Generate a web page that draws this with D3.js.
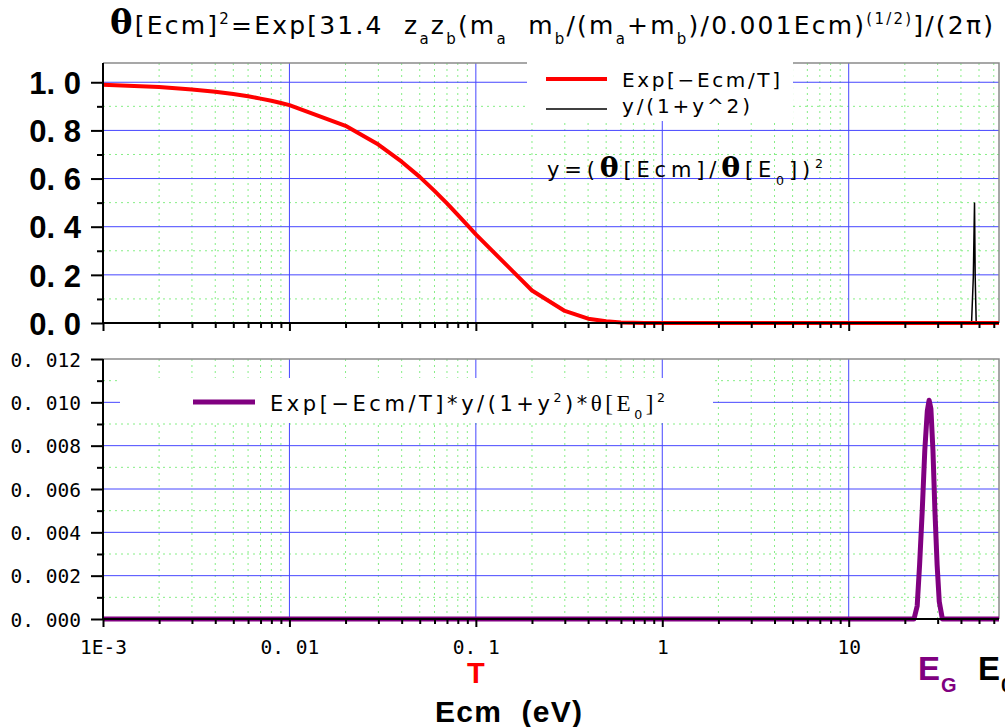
<!DOCTYPE html>
<html>
<head>
<meta charset="utf-8">
<script src="https://cdn.jsdelivr.net/npm/d3@7"></script>
<style>
  body { margin: 0; background: #fff; }
  svg { display: block; }
</style>
</head>
<body>
<div id="chart"></div>
<script>
// x axis (log, eV)
const xMajor = [0.001, 0.01, 0.1, 1, 10];
const xMajorLabels = ["1E-3", "0. 01", "0. 1", "1", "10"];

// y ticks
const topYTicks = [0, 0.2, 0.4, 0.6, 0.8, 1.0];
const topYMinor = [0.1, 0.3, 0.5, 0.7, 0.9];
const botYTicks = [0, 0.002, 0.004, 0.006, 0.008, 0.010, 0.012];
const botYMinor = [0.001, 0.003, 0.005, 0.007, 0.009, 0.011];

// Exp[-Ecm/T]
const redE = [0.001, 0.002, 0.003, 0.004, 0.005, 0.006, 0.007, 0.008, 0.009, 0.01,
  0.02, 0.03, 0.04, 0.05, 0.06, 0.07, 0.08, 0.09, 0.1, 0.2, 0.3, 0.4, 0.5, 0.6, 0.7, 0.8, 1, 10, 64];
const redV = [0.99, 0.98, 0.97, 0.961, 0.951, 0.942, 0.932, 0.923, 0.914, 0.905,
  0.819, 0.741, 0.670, 0.607, 0.549, 0.497, 0.449, 0.407, 0.368, 0.135, 0.050, 0.018, 0.007, 0.002, 0.001, 0, 0, 0, 0];

// y/(1+y^2) narrow spike at E0
const blackE = [0.001, 45.6, 46.6, 47.3, 47.7, 48.3, 64];
const blackV = [0, 0, 0.19, 0.5, 0.19, 0, 0];

// product, Gamow peak at EG
const purpleE = [0.001, 20, 22.4, 23.3, 24.0, 24.8, 25.6, 26.4, 27.0, 27.6, 28.3, 29.0, 29.8, 30.6, 31.8, 64];
const purpleV = [0, 0, 0, 0.0006, 0.0025, 0.005, 0.0078, 0.0096, 0.0101, 0.0097, 0.0078, 0.005, 0.0025, 0.0008, 0, 0];

const width = 1005, height = 727;
const left = 103, right = 999;
const topPanel = { top: 63, bottom: 323 };
const botPanel = { top: 359, bottom: 619 };
const sans = "DejaVu Sans, sans-serif";

const svg = d3.select("#chart").append("svg")
  .attr("width", width).attr("height", height)
  .attr("viewBox", [0, 0, width, height]);

const x = d3.scaleLog().domain([0.001, 64]).range([left, right]);
const yTop = d3.scaleLinear().domain([0, 1.08]).range([topPanel.bottom, topPanel.top]);
const yBot = d3.scaleLinear().domain([0, 0.012]).range([botPanel.bottom, botPanel.top]);

const blue = "#4646ff";
const green = "#86ee86";
const allX = x.ticks().filter(d => d > 0.001);
const minorX = allX.filter(d => !xMajor.some(m => Math.abs(m - d) / m < 1e-6));

function grid(panel, y, major, minor) {
  const g = svg.append("g");
  g.selectAll(".vm").data(minorX).join("line")
    .attr("x1", d => x(d)).attr("x2", d => x(d))
    .attr("y1", panel.top).attr("y2", panel.bottom)
    .attr("stroke", green).attr("stroke-dasharray", "2,4");
  g.selectAll(".hm").data(minor).join("line")
    .attr("x1", left).attr("x2", right)
    .attr("y1", d => y(d)).attr("y2", d => y(d))
    .attr("stroke", green).attr("stroke-dasharray", "2,4");
  g.selectAll(".vM").data(xMajor.slice(1)).join("line")
    .attr("x1", d => x(d)).attr("x2", d => x(d))
    .attr("y1", panel.top).attr("y2", panel.bottom)
    .attr("stroke", blue).attr("stroke-width", 1);
  g.selectAll(".hM").data(major.filter(d => d > 0 && y(d) > panel.top + 2)).join("line")
    .attr("x1", left).attr("x2", right)
    .attr("y1", d => y(d)).attr("y2", d => y(d))
    .attr("stroke", blue).attr("stroke-width", 1);
  // gray frame (top, right)
  g.append("path")
    .attr("d", `M${left},${panel.top}H${right}V${panel.bottom}`)
    .attr("fill", "none").attr("stroke", "#8a8a8a").attr("stroke-width", 1.5);
}

grid(topPanel, yTop, topYTicks, topYMinor);
grid(botPanel, yBot, botYTicks, botYMinor);

// legend backgrounds
svg.append("rect").attr("x", 527).attr("y", 56).attr("width", 266).attr("height", 65).attr("fill", "#fff");
svg.append("rect").attr("x", 120).attr("y", 378).attr("width", 593).attr("height", 45).attr("fill", "#fff");

// curves
const lineTop = d3.line().x(d => x(d[0])).y(d => yTop(d[1]));
const lineBot = d3.line().x(d => x(d[0])).y(d => yBot(d[1]));

svg.append("path").datum(d3.zip(blackE, blackV))
  .attr("d", lineTop).attr("fill", "none").attr("stroke", "#000").attr("stroke-width", 1.5);
svg.append("path").datum(d3.zip(redE, redV))
  .attr("d", lineTop).attr("fill", "none").attr("stroke", "#ff0000").attr("stroke-width", 4)
  .attr("stroke-linejoin", "round");
svg.append("path").datum(d3.zip(purpleE, purpleV))
  .attr("d", lineBot).attr("fill", "none").attr("stroke", "#800080").attr("stroke-width", 5)
  .attr("stroke-linejoin", "round");

// axes
const fmtTop = d => d3.format(".1f")(d).replace(".", ". ");
const fmtBot = d => d3.format(".3f")(d).replace(".", ". ");

function yAxis(y, ticks, minor, fmt, font, size, weight) {
  svg.append("g").attr("transform", `translate(${left},0)`)
    .call(d3.axisLeft(y).tickValues(minor).tickSize(6).tickFormat(""))
    .call(g => g.select(".domain").remove())
    .selectAll("line").attr("stroke", "#000").attr("stroke-width", 2);
  const g = svg.append("g").attr("transform", `translate(${left},0)`)
    .call(d3.axisLeft(y).tickValues(ticks).tickSize(12).tickPadding(10).tickFormat(fmt));
  g.select(".domain").remove();
  g.selectAll("line").attr("stroke", "#000").attr("stroke-width", 2);
  g.selectAll("text").attr("font-family", font).attr("font-size", size)
    .attr("font-weight", weight).attr("fill", "#000").attr("dy", "0.36em");
  svg.append("line").attr("x1", left).attr("x2", left)
    .attr("y1", y.range()[1]).attr("y2", y.range()[0] + 1)
    .attr("stroke", "#000").attr("stroke-width", 2);
}
yAxis(yTop, topYTicks, topYMinor, fmtTop, "Liberation Sans, Arial, sans-serif", 31, "bold");
yAxis(yBot, botYTicks, botYMinor, fmtBot, "DejaVu Sans Mono, monospace", 19.5, "normal");

function xAxis(yPos, labels) {
  svg.append("g").attr("transform", `translate(0,${yPos})`)
    .call(d3.axisBottom(x).tickValues(minorX).tickSize(5).tickFormat(""))
    .call(g => g.select(".domain").remove())
    .selectAll("line").attr("stroke", "#000").attr("stroke-width", 2);
  const g = svg.append("g").attr("transform", `translate(0,${yPos})`)
    .call(d3.axisBottom(x).tickValues(xMajor).tickSize(8)
      .tickFormat((d, i) => labels ? xMajorLabels[i] : ""));
  g.select(".domain").remove();
  g.selectAll("line").attr("stroke", "#000").attr("stroke-width", 2);
  g.selectAll("text").attr("font-family", "DejaVu Sans Mono, monospace").attr("font-size", 19.5)
    .attr("fill", "#000").attr("y", 35).attr("dy", 0);
  svg.append("line").attr("x1", left - 1).attr("x2", right)
    .attr("y1", yPos).attr("y2", yPos).attr("stroke", "#000").attr("stroke-width", 2);
}
xAxis(topPanel.bottom, false);
xAxis(botPanel.bottom, true);

// rich text helper: parts = [text, kind]
function rich(xp, yp, parts, base, len) {
  const t = svg.append("text").attr("x", xp).attr("y", yp)
    .attr("font-family", sans)
    .attr("font-size", base).attr("fill", "#000").style("white-space", "pre");
  let shift = 0;
  parts.forEach(([s, k]) => {
    const target = k === "sup" ? -0.42 * base : (k === "sub" ? 0.38 * base : 0);
    const ts = t.append("tspan").text(s).attr("dy", target - shift);
    shift = target;
    if (k === "sup" || k === "sub") ts.attr("font-size", base * 0.6);
    if (k === "theta") ts.attr("font-family", "DejaVu Serif, serif").attr("font-weight", "bold").attr("font-size", base * 1.35);
    if (k === "serif") ts.attr("font-family", "Liberation Serif, serif").attr("font-size", base * 1.1);
  });
  if (len) t.attr("textLength", len).attr("lengthAdjust", "spacing");
  return t;
}

// title
rich(110, 34, [
  ["θ", "theta"], ["[Ecm]", "n"], ["2", "sup"], ["=Exp[31.4  z", "n"], ["a", "sub"], ["z", "n"], ["b", "sub"],
  ["(m", "n"], ["a", "sub"], ["  m", "n"], ["b", "sub"], ["/(m", "n"], ["a", "sub"], ["+m", "n"], ["b", "sub"],
  [")/0.001Ecm)", "n"], ["(1/2)", "sup"], ["]/(2π)", "n"]
], 25, 883);

// top legend
svg.append("line").attr("x1", 546).attr("x2", 607).attr("y1", 79).attr("y2", 79)
  .attr("stroke", "#ff0000").attr("stroke-width", 4);
svg.append("line").attr("x1", 546).attr("x2", 607).attr("y1", 109).attr("y2", 109)
  .attr("stroke", "#000").attr("stroke-width", 1.5);
rich(622, 87, [["Exp[−Ecm/T]", "n"]], 20, 158);
rich(622, 113, [["y/(1+y^2)", "n"]], 20, 128);
rich(547, 177, [["y=(", "n"], ["θ", "theta"], ["[Ecm]/", "n"], ["θ", "theta"], ["[E", "n"], ["0", "sub"], ["])", "n"], ["2", "sup"]], 21, 276);

// bottom legend
svg.append("line").attr("x1", 193).attr("x2", 255).attr("y1", 402).attr("y2", 402)
  .attr("stroke", "#800080").attr("stroke-width", 5);
rich(270, 411, [["Exp[−Ecm/T]*y/(1+y", "n"], ["2", "sup"], [")*", "n"], ["θ[E", "serif"], ["0", "sub"], ["]", "serif"], ["2", "sup"]], 21, 395);

// axis title and markers
svg.append("text").attr("x", 435).attr("y", 722).text("Ecm  (eV)").style("white-space", "pre")
  .attr("font-family", "Liberation Sans, Arial, sans-serif").attr("font-weight", "bold")
  .attr("font-size", 30).attr("textLength", 147).attr("lengthAdjust", "spacing");
svg.append("text").attr("x", x(0.1)).attr("y", 683).attr("text-anchor", "middle").text("T")
  .attr("font-family", "Liberation Sans, Arial, sans-serif").attr("font-weight", "bold")
  .attr("font-size", 29).attr("fill", "#ff0000");
const eg = svg.append("text").attr("x", 918).attr("y", 680)
  .attr("font-family", "Liberation Sans, Arial, sans-serif").attr("font-weight", "bold")
  .attr("font-size", 33).attr("fill", "#800080");
eg.append("tspan").text("E");
eg.append("tspan").text("G").attr("font-size", 20).attr("dy", 12).attr("dx", 1);
const e0 = svg.append("text").attr("x", 978).attr("y", 680)
  .attr("font-family", "Liberation Sans, Arial, sans-serif").attr("font-weight", "bold")
  .attr("font-size", 33).attr("fill", "#000");
e0.append("tspan").text("E");
e0.append("tspan").text("0").attr("font-size", 20).attr("dy", 12).attr("dx", 1);
</script>
</body>
</html>
